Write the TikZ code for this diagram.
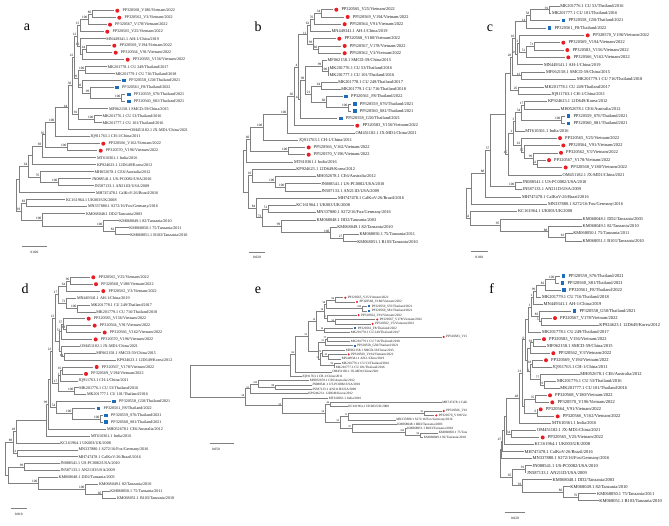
\documentclass[tikz,border=0pt]{standalone}
\usepackage{fontspec}
\setmainfont{Liberation Serif}
\begin{document}
\definecolor{rd}{RGB}{234,28,36}
\definecolor{bl}{RGB}{30,108,188}
\newcounter{nn}
\def\qlfs{4.1}\def\qbss{3.4}\def\qmo{3.5}\def\qto{8.5}\def\qmr{2}\def\qms{1.8}
\tikzset{
 br/.style={draw=black!50, line width=0.45pt},
 lf/.style={font=\fontsize{\qlfs}{\qlfs}\selectfont, inner sep=0pt, anchor=west, text=black!90},
 bsl/.style={font=\fontsize{\qbss}{\qbss}\selectfont, inner sep=0.2pt, anchor=south east, xshift=-0.3pt, yshift=0.2pt},
 plab/.style={font=\fontsize{14}{14}\selectfont, inner sep=0pt},
 scl/.style={font=\fontsize{3.4}{3.4}\selectfont, inner sep=0pt}
}
\newcommand\tnd[6]{\stepcounter{nn}\draw[br] (#2,#3) -- (#1,#3) -- (#1,#5) -- (#4,#5);
 \node[bsl] (n\thenn) at (#1,{(#3+#5)/2}) {#6};}
\newcommand\lfn[3]{\stepcounter{nn}\node[lf] (t\thenn) at (#1+0.6,#2) {#3};}
\newcommand\lfr[3]{\stepcounter{nn}\fill[rd] (#1+\qmo,#2) circle (\qmr);
 \node[lf] (t\thenn) at (#1+\qto,#2) {#3};}
\newcommand\lfb[3]{\stepcounter{nn}\fill[bl] (#1+\qmo-\qms,#2-\qms) rectangle (#1+\qmo+\qms,#2+\qms);
 \node[lf] (t\thenn) at (#1+\qto,#2) {#3};}
\begin{tikzpicture}[x=1pt,y=-1pt]
\fill[white] (0,0) rectangle (669,526);
\useasboundingbox (0,0) rectangle (669,526);
% ================= panel a
\begin{scope}
\node[plab] (pa) at (27,27) {a};
\lfr{113.8}{10.7}{PP320568\_V180/Vietnam/2022}
\lfr{115.8}{17.7}{PP320562\_V3/Vietnam/2022}
\lfr{106.5}{24.7}{PP320567\_V178/Vietnam/2022}
\lfr{103.8}{31.7}{PP320565\_V25/Vietnam/2022}
\lfn{105.5}{38.7}{MN449341.1 AH-1/China/2019}
\lfr{110.8}{45.7}{PP320569\_V194/Vietnam/2022}
\lfr{112.2}{52.7}{PP320564\_V91/Vietnam/2022}
\lfr{124.2}{59.7}{PP320583\_V156/Vietnam/2022}
\lfn{106.8}{66.7}{MK201778.1 CU 249/Thailand/2017}
\lfn{114.8}{73.7}{MK201779.1 CU 716/Thailand/2018}
\lfb{120.5}{80.7}{PP320558\_G50/Thailand/2021}
\lfb{113.5}{87.7}{PP320561\_F8/Thailand/2022}
\lfb{125.2}{94.7}{PP320559\_S76/Thailand/2021}
\lfb{125.2}{101.7}{PP320560\_S81/Thailand/2021}
\lfn{108.2}{108.7}{MF062158.1 SMCD-59/China/2015}
\lfn{101.8}{115.7}{MK201776.1 CU 53/Thailand/2016}
\lfn{101.8}{122.7}{MK201777.1 CU 101/Thailand/2016}
\lfn{129.5}{129.7}{OM451182.1 JX-MD1/China/2021}
\lfn{89.5}{136.7}{JQ911763.1 CH-1/China/2011}
\lfr{99.8}{143.7}{PP320566\_V162/Vietnam/2022}
\lfr{97.2}{150.7}{PP320570\_V196/Vietnam/2022}
\lfn{96.2}{157.7}{MT610361.1 India/2016}
\lfn{96.2}{164.7}{KP924623.1 12D649/Korea/2012}
\lfn{93.8}{171.7}{MH052678.1 CE6/Australia/2012}
\lfn{91.2}{178.7}{JN088541.1 US-PC0082/USA/2010}
\lfn{93.8}{185.7}{JN587133.1 AN211D/USA/2009}
\lfn{95.2}{192.7}{MH747478.1 CalKoV-26/Brazil/2016}
\lfn{65.2}{199.7}{KC161964.1 UK003/UK/2008}
\lfn{87.2}{206.7}{MN337880.1 S272/16/Fox/Germany/2016}
\lfn{85.2}{213.7}{KM068048.1 DD2/Tanzania/2003}
\lfn{118.5}{220.7}{KM068049.1 82/Tanzania/2010}
\lfn{128.5}{227.7}{KM068050.1 75/Tanzania/2011}
\lfn{129.5}{234.7}{KM068051.1 B103/Tanzania/2010}
\tnd{92}{113.8}{10.7}{115.8}{17.7}{86}
\tnd{88}{92}{14.2}{106.5}{24.7}{100}
\tnd{80}{88}{19.45}{103.8}{31.7}{15}
\tnd{86}{110.8}{45.7}{112.2}{52.7}{44}
\tnd{82}{86}{49.2}{124.2}{59.7}{}
\tnd{80}{105.5}{38.7}{82}{54.45}{10}
\tnd{77}{80}{25.6}{80}{46.6}{12}
\tnd{85}{106.8}{66.7}{114.8}{73.7}{100}
\tnd{121}{125.2}{94.7}{125.2}{101.7}{100}
\tnd{90}{113.5}{87.7}{121}{98.2}{99}
\tnd{82}{120.5}{80.7}{90}{92.95}{69}
\tnd{78}{85}{70.2}{82}{86.8}{99}
\tnd{74}{77}{36.1}{78}{78.5}{22}
\tnd{94}{101.8}{115.7}{101.8}{122.7}{100}
\tnd{78}{108.2}{108.7}{94}{119.2}{92}
\tnd{72}{74}{57.3}{78}{113.95}{30}
\tnd{68}{72}{85.6}{129.5}{129.7}{44}
\tnd{55}{68}{107.65}{89.5}{136.7}{100}
\tnd{67}{99.8}{143.7}{97.2}{150.7}{100}
\tnd{45}{55}{122.2}{67}{147.2}{56}
\tnd{42}{45}{134.7}{96.2}{157.7}{69}
\tnd{32}{42}{146.2}{96.2}{164.7}{}
\tnd{58}{91.2}{178.7}{93.8}{185.7}{100}
\tnd{40}{93.8}{171.7}{58}{182.2}{76}
\tnd{28}{32}{155.45}{40}{176.95}{64}
\tnd{19}{28}{166.2}{95.2}{192.7}{}
\tnd{26}{65.2}{199.7}{87.2}{206.7}{83}
\tnd{115}{128.5}{227.7}{129.5}{234.7}{82}
\tnd{103}{118.5}{220.7}{115}{231.2}{100}
\tnd{42}{85.2}{213.7}{103}{225.95}{100}
\tnd{21}{26}{203.2}{42}{219.8}{93}
\tnd{16}{19}{179.45}{21}{211.5}{}
\draw[br] (22,246) coordinate (sa1) -- (47,246) coordinate (sa2);
\node[scl] (sal) at (34.5,252.5) {0.020};
\end{scope}
% ================= panel b
\begin{scope}
\def\qlfs{4.35}
\node[plab] (pb) at (258,26.7) {b};
\lfr{332.8}{9.7}{PP320565\_V25/Vietnam/2022}
\lfr{344.2}{16.95}{PP320569\_V194/Vietnam/2022}
\lfr{341.2}{24.2}{PP320564\_V91/Vietnam/2022}
\lfn{330.8}{31.45}{MN449341.1 AH-1/China/2019}
\lfr{335.8}{38.7}{PP320568\_V180/Vietnam/2022}
\lfr{341.2}{45.95}{PP320567\_V178/Vietnam/2022}
\lfr{341.2}{53.2}{PP320562\_V3/Vietnam/2022}
\lfn{326.8}{60.45}{MF062158.1 SMCD-59/China/2015}
\lfn{328.8}{67.7}{MK201776.1 CU 53/Thailand/2016}
\lfn{328.8}{74.95}{MK201777.1 CU 101/Thailand/2016}
\lfn{337.5}{82.2}{MK201778.1 CU 249/Thailand/2017}
\lfn{340.5}{89.45}{MK201779.1 CU 716/Thailand/2018}
\lfb{342.5}{96.7}{PP320561\_F8/Thailand/2022}
\lfb{351.2}{103.95}{PP320559\_S76/Thailand/2021}
\lfb{351.2}{111.2}{PP320560\_S81/Thailand/2021}
\lfb{337.2}{118.45}{PP320558\_G50/Thailand/2021}
\lfr{353.8}{125.7}{PP320583\_V156/Vietnam/2022}
\lfn{354.8}{132.95}{OM451182.1 JX-MD1/China/2021}
\lfn{298.2}{140.2}{JQ911763.1 CH-1/China/2011}
\lfr{305.2}{147.45}{PP320566\_V162/Vietnam/2022}
\lfr{305.2}{154.7}{PP320570\_V196/Vietnam/2022}
\lfn{293.2}{161.95}{MT610361.1 India/2016}
\lfn{295.5}{169.2}{KP924623.1 12D649/Korea/2012}
\lfn{315.8}{176.45}{MH052678.1 CE6/Australia/2012}
\lfn{320.5}{183.7}{JN088541.1 US-PC0082/USA/2010}
\lfn{320.5}{190.95}{JN587133.1 AN211D/USA/2009}
\lfn{337.2}{198.2}{MH747478.1 CalKoV-26/Brazil/2016}
\lfn{295.5}{205.45}{KC161964.1 UK003/UK/2008}
\lfn{315.8}{212.7}{MN337880.1 S272/16/Fox/Germany/2016}
\lfn{315.8}{219.95}{KM068048.1 DD2/Tanzania/2003}
\lfn{336.5}{227.2}{KM068049.1 82/Tanzania/2010}
\lfn{358.8}{234.45}{KM068050.1 75/Tanzania/2011}
\lfn{356.5}{241.7}{KM068051.1 B103/Tanzania/2010}
\tnd{321}{332.8}{9.7}{344.2}{16.95}{34}
\tnd{314}{321}{13.3}{341.2}{24.2}{76}
\tnd{310}{314}{18.75}{330.8}{31.45}{62}
\tnd{318}{341.2}{45.95}{341.2}{53.2}{60}
\tnd{313}{335.8}{38.7}{318}{49.6}{99}
\tnd{307}{310}{25.1}{313}{44.15}{11}
\tnd{328}{328.8}{67.7}{328.8}{74.95}{100}
\tnd{322}{326.8}{60.45}{328}{71.3}{99}
\tnd{321}{337.5}{82.2}{340.5}{89.45}{64}
\tnd{348}{351.2}{103.95}{351.2}{111.2}{100}
\tnd{326}{342.5}{96.7}{348}{107.6}{60}
\tnd{311}{321}{85.8}{326}{102.15}{21}
\tnd{305}{322}{65.9}{311}{94}{98}
\tnd{300}{305}{79.95}{337.2}{118.45}{44}
\tnd{298}{307}{34.6}{300}{99.2}{4}
\tnd{294}{298}{66.9}{353.8}{125.7}{66}
\tnd{287}{294}{96.3}{354.8}{132.95}{100}
\tnd{263}{287}{114.6}{298.2}{140.2}{100}
\tnd{288}{305.2}{147.45}{305.2}{154.7}{100}
\tnd{250}{263}{127.4}{288}{151.1}{60}
\tnd{246}{250}{139.25}{293.2}{161.95}{}
\tnd{285}{320.5}{183.7}{320.5}{190.95}{100}
\tnd{275}{315.8}{176.45}{285}{187.3}{100}
\tnd{252}{295.5}{169.2}{275}{181.9}{10}
\tnd{268}{295.5}{205.45}{315.8}{212.7}{51}
\tnd{343}{358.8}{234.45}{356.5}{241.7}{27}
\tnd{330}{336.5}{227.2}{343}{238.1}{100}
\tnd{281}{315.8}{219.95}{330}{232.65}{99}
\tnd{262}{268}{209.1}{281}{226.3}{73}
\tnd{256}{337.2}{198.2}{262}{217.7}{84}
\tnd{248}{252}{175.55}{256}{207.95}{}
\tnd{243}{246}{150.6}{248}{191.75}{}
\draw[br] (248.7,252.3) coordinate (sb1) -- (265.3,252.3) coordinate (sb2);
\node[scl] (sbl) at (257,257.5) {0.020};
\end{scope}
% ================= panel c
\begin{scope}
\def\qlfs{4.4}
\node[plab] (pc) at (490,28.3) {c};
\lfn{559.5}{6}{MK201776.1 CU 53/Thailand/2016}
\lfn{551.2}{13.34}{MK201777.1 CU 101/Thailand/2016}
\lfb{559.8}{20.68}{PP320558\_G50/Thailand/2021}
\lfb{545.8}{28.02}{PP320561\_F8/Thailand/2022}
\lfr{584.2}{35.36}{PP320570\_V196/Vietnam/2022}
\lfr{559.8}{42.7}{PP320569\_V194/Vietnam/2022}
\lfr{563.8}{50.04}{PP320583\_V156/Vietnam/2022}
\lfr{564.8}{57.38}{PP320566\_V162/Vietnam/2022}
\lfn{543.2}{64.72}{MN449341.1 AH-1/China/2019}
\lfn{545.2}{72.06}{MF062158.1 SMCD-59/China/2015}
\lfn{576.2}{79.4}{MK201779.1 CU 716/Thailand/2018}
\lfn{543.8}{86.74}{MK201778.1 CU 249/Thailand/2017}
\lfn{550.5}{94.08}{JQ911763.1 CH-1/China/2011}
\lfn{547.2}{101.42}{KP924623.1 12D649/Korea/2012}
\lfn{559.8}{108.76}{MH052678.1 CE6/Australia/2012}
\lfb{564.8}{116.1}{PP320559\_S76/Thailand/2021}
\lfb{564.8}{123.44}{PP320560\_S81/Thailand/2021}
\lfn{524.5}{130.78}{MT610361.1 India/2016}
\lfr{556.5}{138.12}{PP320565\_V25/Vietnam/2022}
\lfr{559.8}{145.46}{PP320564\_V91/Vietnam/2022}
\lfr{557.5}{152.8}{PP320562\_V3/Vietnam/2022}
\lfr{545.5}{160.14}{PP320567\_V178/Vietnam/2022}
\lfr{562.2}{167.48}{PP320568\_V180/Vietnam/2022}
\lfn{561.8}{174.82}{OM451182.1 JX-MD1/China/2021}
\lfn{521.8}{182.16}{JN088541.1 US-PC0082/USA/2010}
\lfn{521.8}{189.5}{JN587133.1 AN211D/USA/2009}
\lfn{521.2}{196.84}{MH747478.1 CalKoV-26/Brazil/2016}
\lfn{547.2}{204.18}{MN337880.1 S272/16/Fox/Germany/2016}
\lfn{517.2}{211.52}{KC161964.1 UK003/UK/2008}
\lfn{581.8}{218.86}{KM068048.1 DD2/Tanzania/2003}
\lfn{581.8}{226.2}{KM068049.1 82/Tanzania/2010}
\lfn{572.5}{233.54}{KM068050.1 75/Tanzania/2011}
\lfn{581.8}{240.88}{KM068051.1 B103/Tanzania/2010}
\tnd{549}{559.5}{6}{551.2}{13.34}{91}
\tnd{530}{549}{9.67}{559.8}{20.68}{58}
\tnd{526}{530}{15.2}{545.8}{28.02}{14}
\tnd{534}{559.8}{42.7}{563.8}{50.04}{71}
\tnd{526}{534}{46.37}{564.8}{57.38}{51}
\tnd{519}{584.2}{35.36}{526}{51.9}{3}
\tnd{517}{519}{43.6}{543.2}{64.72}{10}
\tnd{515}{526}{21.6}{517}{54.2}{10}
\tnd{521}{545.2}{72.06}{576.2}{79.4}{41}
\tnd{518}{543.8}{86.74}{550.5}{94.08}{26}
\tnd{524}{547.2}{101.42}{559.8}{108.76}{17}
\tnd{561}{564.8}{116.1}{564.8}{123.44}{100}
\tnd{521}{524}{105.1}{561}{119.8}{34}
\tnd{515}{521}{112.45}{524.5}{130.78}{3}
\tnd{537}{545.5}{160.14}{562.2}{167.48}{32}
\tnd{533}{557.5}{152.8}{537}{163.8}{99}
\tnd{524}{559.8}{145.46}{533}{158.3}{55}
\tnd{521}{556.5}{138.12}{524}{151.9}{61}
\tnd{513}{515}{121.6}{521}{145}{1}
\tnd{508}{513}{133.3}{561.8}{174.82}{45}
\tnd{512}{515}{37.9}{521}{75.7}{28}
\tnd{510}{512}{56.8}{518}{90.4}{}
\tnd{505}{510}{73.6}{508}{154}{}
\tnd{515}{521.8}{182.16}{521.8}{189.5}{100}
\tnd{490}{505}{113.8}{515}{185.8}{57}
\tnd{485}{490}{149.8}{521.2}{196.84}{88}
\tnd{471}{485}{173.3}{547.2}{204.18}{}
\tnd{565}{572.5}{233.54}{581.8}{240.88}{81}
\tnd{548}{581.8}{226.2}{565}{237.2}{88}
\tnd{500}{581.8}{218.86}{548}{231.7}{95}
\tnd{470}{517.2}{211.52}{500}{225.3}{82}
\tnd{466}{471}{188.7}{470}{218.4}{}
\draw[br] (471,251.7) coordinate (sc1) -- (487.7,251.7) coordinate (sc2);
\node[scl] (scll) at (479.3,257) {0.010};
\end{scope}
% ================= panel d
\begin{scope}
\node[plab] (pd) at (25,288.7) {d};
\lfr{89.8}{277.3}{PP320565\_V25/Vietnam/2022}
\lfr{92.5}{284.2}{PP320568\_V180/Vietnam/2022}
\lfr{99.8}{291.1}{PP320562\_V3/Vietnam/2022}
\lfn{76.2}{298}{MN449341.1 AH-1/China/2019}
\lfn{90.2}{304.9}{MK201778.1 CU 249/Thailand/2017}
\lfn{95.5}{311.8}{MK201779.1 CU 716/Thailand/2018}
\lfr{85.2}{318.7}{PP320583\_V156/Vietnam/2022}
\lfr{91.2}{325.6}{PP320564\_V91/Vietnam/2022}
\lfr{101.2}{332.5}{PP320566\_V162/Vietnam/2022}
\lfr{92.2}{339.4}{PP320570\_V196/Vietnam/2022}
\lfn{79.5}{346.3}{OM451182.1 JX-MD1/China/2021}
\lfn{95.5}{353.2}{MF062158.1 SMCD-59/China/2015}
\lfn{116.2}{360.1}{KP924623.1 12D649/Korea/2012}
\lfr{93.2}{367}{PP320567\_V178/Vietnam/2022}
\lfr{82.5}{373.9}{PP320569\_V194/Vietnam/2022}
\lfn{77.8}{380.8}{JQ911763.1 CH-1/China/2011}
\lfn{78.5}{387.7}{MK201776.1 CU 53/Thailand/2016}
\lfn{86.2}{394.6}{MK201777.1 CU 101/Thailand/2016}
\lfb{110.5}{401.5}{PP320558\_G50/Thailand/2021}
\lfb{94.8}{408.4}{PP320561\_F8/Thailand/2022}
\lfb{102.5}{415.3}{PP320559\_S76/Thailand/2021}
\lfb{102.5}{422.2}{PP320560\_S81/Thailand/2021}
\lfn{106.2}{429.1}{MH052678.1 CE6/Australia/2012}
\lfn{90.2}{436}{MT610361.1 India/2016}
\lfn{59.5}{442.9}{KC161964.1 UK003/UK/2008}
\lfn{77.8}{449.8}{MN337880.1 S272/16/Fox/Germany/2016}
\lfn{77.8}{456.7}{MH747478.1 CalKoV-26/Brazil/2016}
\lfn{59.5}{463.6}{JN088541.1 US-PC0082/USA/2010}
\lfn{59.5}{470.5}{JN587133.1 AN211D/USA/2009}
\lfn{57.8}{477.4}{KM068048.1 DD2/Tanzania/2003}
\lfn{98.2}{484.3}{KM068049.1 82/Tanzania/2010}
\lfn{109.5}{491.2}{KM068050.1 75/Tanzania/2011}
\lfn{116.2}{498.1}{KM068051.1 B103/Tanzania/2010}
\tnd{70}{89.8}{277.3}{92.5}{284.2}{96}
\tnd{66}{70}{280.75}{99.8}{291.1}{64}
\tnd{77}{90.2}{304.9}{95.5}{311.8}{100}
\tnd{66}{76.2}{298}{77}{308.35}{72}
\tnd{58}{66}{285.9}{66}{303.2}{17}
\tnd{66}{91.2}{325.6}{101.2}{332.5}{68}
\tnd{63}{85.2}{318.7}{66}{329.05}{57}
\tnd{61}{63}{323.9}{92.2}{339.4}{52}
\tnd{64}{95.5}{353.2}{116.2}{360.1}{44}
\tnd{61}{79.5}{346.3}{64}{356.65}{4}
\tnd{59}{61}{331.65}{61}{351.5}{}
\tnd{62}{93.2}{367}{82.5}{373.9}{16}
\tnd{60}{62}{370.45}{77.8}{380.8}{1}
\tnd{74}{78.5}{387.7}{86.2}{394.6}{100}
\tnd{58}{60}{375.6}{74}{391.15}{17}
\tnd{100}{102.5}{415.3}{102.5}{422.2}{100}
\tnd{72}{94.8}{408.4}{100}{418.75}{100}
\tnd{56}{110.5}{401.5}{72}{413.6}{54}
\tnd{55}{58}{294.55}{59}{341.6}{13}
\tnd{52}{55}{318.1}{58}{383.4}{23}
\tnd{50}{52}{350.75}{56}{407.55}{}
\tnd{48}{50}{379.15}{106.2}{429.1}{99}
\tnd{46}{48}{404.1}{90.2}{436}{}
\tnd{16}{46}{420.05}{59.5}{442.9}{49}
\tnd{17}{77.8}{449.8}{77.8}{456.7}{41}
\tnd{13}{16}{431.5}{17}{453.25}{89}
\tnd{24}{59.5}{463.6}{59.5}{470.5}{99}
\tnd{102}{109.5}{491.2}{116.2}{498.1}{66}
\tnd{85}{98.2}{484.3}{102}{494.65}{100}
\tnd{38}{57.8}{477.4}{85}{489.5}{100}
\tnd{8}{24}{467.05}{38}{483.45}{}
\tnd{5}{13}{442.4}{8}{475.25}{}
\draw[br] (10.7,508.7) coordinate (sd1) -- (26.7,508.7) coordinate (sd2);
\node[scl] (sdl) at (18.7,514) {0.010};
\end{scope}
% ================= panel e
\begin{scope}
\clip (150,262) rectangle (466,526);
\def\qlfs{3.3}\def\qbss{2.7}\def\qmo{2.2}\def\qto{4.6}\def\qmr{1.15}\def\qms{1.05}
\node[plab] (pe) at (258,290) {e};
\lfr{343.1}{297.7}{PP320565\_V25/Vietnam/2022}
\lfr{354.8}{302.06}{PP320568\_V180/Vietnam/2022}
\lfb{367.1}{306.42}{PP320559\_S76/Thailand/2021}
\lfb{367.1}{310.78}{PP320560\_S81/Thailand/2021}
\lfr{356.5}{315.14}{PP320564\_V91/Vietnam/2022}
\lfr{375.1}{319.5}{PP320567\_V178/Vietnam/2022}
\lfr{370.5}{323.86}{PP320562\_V3/Vietnam/2022}
\lfb{353.1}{328.22}{PP320561\_F8/Thailand/2022}
\lfn{350}{332.58}{MK201778.1 CU 249/Thailand/2017}
\lfr{441.5}{336.94}{PP320583\_V156/Vietnam/2022}
\lfn{350}{341.3}{MK201779.1 CU 716/Thailand/2018}
\lfb{352.5}{345.66}{PP320558\_G50/Thailand/2021}
\lfn{345}{350.02}{MF062158.1 SMCD-59/China/2015}
\lfr{346.5}{354.38}{PP320569\_V194/Vietnam/2022}
\lfn{341}{358.74}{MN449341.1 AH-1/China/2019}
\lfn{341}{363.1}{MK201776.1 CU 53/Thailand/2016}
\lfn{335}{367.46}{MK201777.1 CU 101/Thailand/2016}
\lfn{331.5}{371.82}{OM451182.1 JX-MD1/China/2021}
\lfn{301.5}{376.18}{JQ911763.1 CH-1/China/2011}
\lfn{309}{380.54}{MH052678.1 CE6/Australia/2012}
\lfn{311.5}{384.9}{JN088541.1 US-PC0082/USA/2010}
\lfn{311.5}{389.26}{JN587133.1 AN211D/USA/2009}
\lfn{307.5}{393.62}{KP924623.1 12D649/Korea/2012}
\lfn{328}{397.98}{MT610361.1 India/2016}
\lfn{441.5}{402.34}{MH747478.1 CalKoV-26/Brazil/2016}
\lfn{347.5}{406.7}{KC161964.1 UK003/UK/2008}
\lfr{441.5}{411.06}{PP320566\_V162/Vietnam/2022}
\lfr{434.1}{415.42}{PP320570\_V196/Vietnam/2022}
\lfn{395.5}{419.78}{MN337880.1 S272/16/Fox/Germany/2016}
\lfn{396.5}{424.14}{KM068048.1 DD2/Tanzania/2003}
\lfn{406.5}{428.5}{KM068051.1 B103/Tanzania/2010}
\lfn{438}{432.86}{KM068050.1 75/Tanzania/2011}
\lfn{423}{437.22}{KM068049.1 82/Tanzania/2010}
\tnd{335}{343.1}{297.7}{354.8}{302.06}{84}
\tnd{362}{367.1}{306.42}{367.1}{310.78}{100}
\tnd{326}{335}{299.88}{362}{308.6}{98}
\tnd{335}{375.1}{319.5}{370.5}{323.86}{54}
\tnd{327}{356.5}{315.14}{335}{321.68}{11}
\tnd{324}{326}{304.24}{327}{318.41}{18}
\tnd{324}{353.1}{328.22}{350}{332.58}{16}
\tnd{316}{324}{311.3}{324}{330.4}{14}
\tnd{327}{441.5}{336.94}{350}{341.3}{72}
\tnd{325}{327}{339.12}{352.5}{345.66}{51}
\tnd{328}{346.5}{354.38}{341}{358.74}{43}
\tnd{322}{345}{350.02}{328}{356.56}{72}
\tnd{334}{341}{363.1}{335}{367.46}{99}
\tnd{320}{322}{353.29}{334}{365.28}{34}
\tnd{318}{325}{342.39}{320}{359.28}{}
\tnd{308}{316}{320.85}{318}{350.8}{52}
\tnd{295}{308}{335.8}{331.5}{371.82}{84}
\tnd{290}{295}{353.8}{301.5}{376.18}{}
\tnd{275}{311.5}{384.9}{311.5}{389.26}{88}
\tnd{258}{309}{380.54}{275}{387.08}{100}
\tnd{250}{258}{383.8}{307.5}{393.62}{61}
\tnd{330}{441.5}{402.34}{347.5}{406.7}{44}
\tnd{424}{441.5}{411.06}{434.1}{415.42}{95}
\tnd{348}{424}{413.24}{395.5}{419.78}{11}
\tnd{420}{438}{432.86}{423}{437.22}{96}
\tnd{405}{406.5}{428.5}{420}{435.04}{100}
\tnd{352}{396.5}{424.14}{405}{431.77}{67}
\tnd{340}{348}{416.5}{352}{427.96}{52}
\tnd{325}{330}{404.5}{340}{422.23}{56}
\tnd{282}{328}{397.98}{325}{413.37}{50}
\tnd{245}{250}{388.7}{282}{405.68}{58}
\tnd{190}{290}{365}{245}{397.19}{}
\end{scope}
\draw[br] (210,443) coordinate (se1) -- (234,443) coordinate (se2);
\node[scl] (sel) at (216,449) {0.050};
% ================= panel f
\begin{scope}
\def\qlfs{4.5}
\node[plab] (pf) at (491.7,288.7) {f};
\lfb{559.8}{276}{PP320559\_S76/Thailand/2021}
\lfb{558.8}{283.02}{PP320560\_S81/Thailand/2021}
\lfb{560.5}{290.04}{PP320561\_F8/Thailand/2022}
\lfn{541.2}{297.06}{MK201779.1 CU 716/Thailand/2018}
\lfn{542.8}{304.08}{MN449341.1 AH-1/China/2019}
\lfb{570.8}{311.1}{PP320558\_G50/Thailand/2021}
\lfr{551.5}{318.12}{PP320567\_V178/Vietnam/2022}
\lfn{598.5}{325.14}{KP924623.1 12D649/Korea/2012}
\lfn{541.2}{332.16}{MK201778.1 CU 249/Thailand/2017}
\lfr{540.5}{339.18}{PP320583\_V156/Vietnam/2022}
\lfn{546.2}{346.2}{MF062158.1 SMCD-59/China/2015}
\lfr{549.8}{353.22}{PP320562\_V3/Vietnam/2022}
\lfr{542.5}{360.24}{PP320569\_V194/Vietnam/2022}
\lfn{551.8}{367.26}{JQ911763.1 CH-1/China/2011}
\lfn{579.5}{374.28}{MH052678.1 CE6/Australia/2012}
\lfn{556.2}{381.3}{MK201776.1 CU 53/Thailand/2016}
\lfn{559.5}{388.32}{MK201777.1 CU 101/Thailand/2016}
\lfr{546.5}{395.34}{PP320568\_V180/Vietnam/2022}
\lfr{548.8}{402.36}{PP320570\_V196/Vietnam/2022}
\lfr{537.2}{409.38}{PP320564\_V91/Vietnam/2022}
\lfr{554.2}{416.4}{PP320566\_V162/Vietnam/2022}
\lfn{551.2}{423.42}{MT610361.1 India/2016}
\lfn{536.2}{430.44}{OM451182.1 JX-MD1/China/2021}
\lfr{539.2}{437.46}{PP320565\_V25/Vietnam/2022}
\lfn{533.8}{444.48}{KC161964.1 UK003/UK/2008}
\lfn{523.8}{451.5}{MH747478.1 CalKoV-26/Brazil/2016}
\lfn{531.8}{458.52}{MN337880.1 S272/16/Fox/Germany/2016}
\lfn{531.8}{465.54}{JN088541.1 US-PC0082/USA/2010}
\lfn{526.2}{472.56}{JN587133.1 AN211D/USA/2009}
\lfn{551.8}{479.58}{KM068048.1 DD2/Tanzania/2003}
\lfn{569.5}{486.6}{KM068049.1 82/Tanzania/2010}
\lfn{596.2}{493.62}{KM068050.1 75/Tanzania/2011}
\lfn{598.5}{500.64}{KM068051.1 B103/Tanzania/2010}
\tnd{555}{559.8}{276}{558.8}{283.02}{100}
\tnd{545}{555}{279.5}{560.5}{290.04}{82}
\tnd{536}{545}{284.8}{541.2}{297.06}{99}
\tnd{533}{536}{290.9}{542.8}{304.08}{1}
\tnd{541}{551.5}{318.12}{598.5}{325.14}{53}
\tnd{539}{570.8}{311.1}{541}{321.6}{83}
\tnd{531}{533}{297.5}{539}{316.35}{1}
\tnd{528}{531}{306.9}{541.2}{332.16}{}
\tnd{533}{540.5}{339.18}{546.2}{346.2}{93}
\tnd{530}{533}{342.7}{549.8}{353.22}{}
\tnd{532}{542.5}{360.24}{551.8}{367.26}{18}
\tnd{544}{556.2}{381.3}{559.5}{388.32}{91}
\tnd{540}{579.5}{374.28}{544}{384.8}{77}
\tnd{530}{532}{363.75}{540}{379.5}{1}
\tnd{527}{530}{347.96}{530}{371.6}{}
\tnd{525}{528}{319.5}{527}{359.8}{0}
\tnd{535}{546.5}{395.34}{548.8}{402.36}{35}
\tnd{537}{537.2}{409.38}{554.2}{416.4}{6}
\tnd{524}{535}{398.85}{537}{412.9}{7}
\tnd{522}{525}{339.65}{524}{405.9}{21}
\tnd{519}{522}{372.8}{551.2}{423.42}{48}
\tnd{511}{536.2}{430.44}{539.2}{437.46}{34}
\tnd{506}{519}{398.1}{511}{433.95}{}
\tnd{504}{506}{416}{533.8}{444.48}{}
\tnd{502}{504}{430.2}{523.8}{451.5}{47}
\tnd{501}{502}{440.85}{531.8}{458.52}{}
\tnd{525}{531.8}{465.54}{526.2}{472.56}{91}
\tnd{578}{596.2}{493.62}{598.5}{500.64}{76}
\tnd{563}{569.5}{486.6}{578}{497.1}{86}
\tnd{522}{551.8}{479.58}{563}{491.85}{93}
\tnd{512}{525}{469.05}{522}{485.7}{65}
\tnd{500}{501}{449.7}{512}{477.4}{}
\draw[br] (505,512) coordinate (sf1) -- (525,512) coordinate (sf2);
\node[scl] (sfl) at (515,518.5) {0.020};
\end{scope}
\end{tikzpicture}
\end{document}
